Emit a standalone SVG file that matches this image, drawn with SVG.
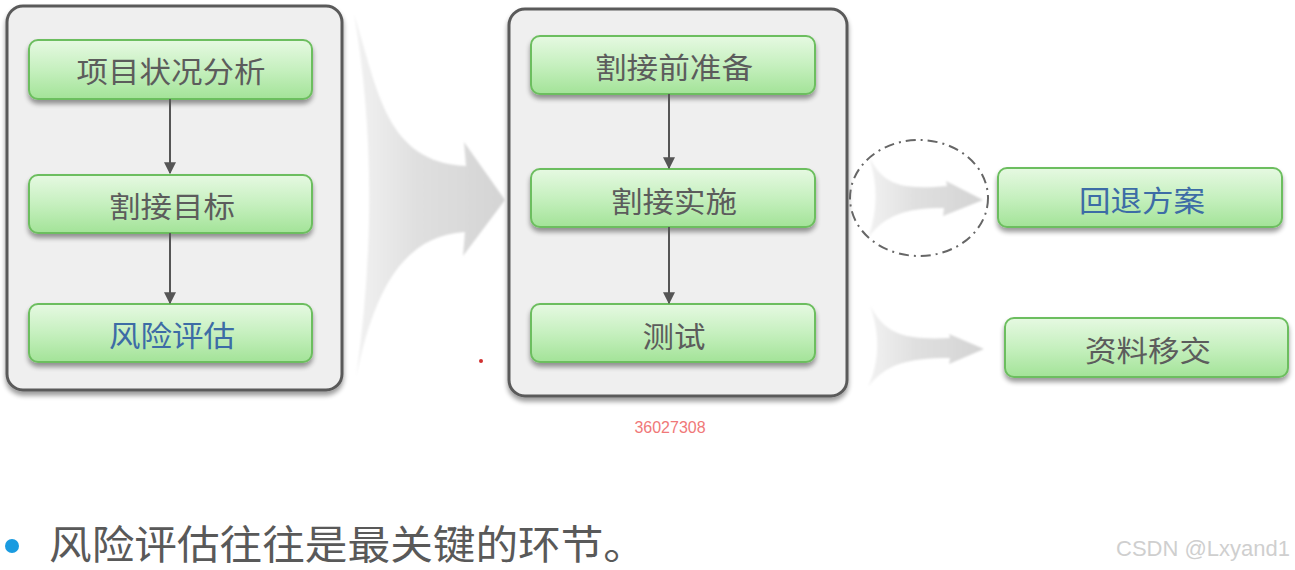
<svg xmlns="http://www.w3.org/2000/svg" width="1295" height="570" viewBox="0 0 1295 570">
<defs>
<linearGradient id="g" x1="0" y1="0" x2="0" y2="1">
<stop offset="0" stop-color="#e6f9e2"/><stop offset="0.5" stop-color="#c6f0bf"/><stop offset="1" stop-color="#a3e398"/>
</linearGradient>
<linearGradient id="ga" x1="0" y1="0" x2="1" y2="0">
<stop offset="0" stop-color="#f2f2f2"/><stop offset="0.4" stop-color="#e0e0e0"/><stop offset="1" stop-color="#d4d4d4"/>
</linearGradient>
<filter id="sh" x="-10%" y="-10%" width="120%" height="130%">
<feGaussianBlur in="SourceAlpha" stdDeviation="2.5"/><feOffset dx="0" dy="4"/>
<feComponentTransfer><feFuncA type="linear" slope="0.4"/></feComponentTransfer>
<feMerge><feMergeNode/><feMergeNode in="SourceGraphic"/></feMerge>
</filter>
<filter id="bl" x="-10%" y="-10%" width="120%" height="120%"><feGaussianBlur stdDeviation="1.2"/></filter>
<marker id="ah" viewBox="0 0 10 10" refX="9" refY="5" markerWidth="6" markerHeight="6" orient="auto" markerUnits="strokeWidth">
<path d="M0,0 L10,5 L0,10 z" fill="#555"/>
</marker>
</defs>
<style>
.cont{fill:#efefef;stroke:#5a5a5a;stroke-width:3}
.box{fill:url(#g);stroke:#6cbe5e;stroke-width:2}
.t{font-family:"Noto Sans CJK SC","Liberation Sans",sans-serif;font-size:29px;fill:#5c5c5c;text-anchor:middle;dominant-baseline:central}
.b{fill:#3d6ca6}
.conn{stroke:#555;stroke-width:2;fill:none;marker-end:url(#ah)}
.big{fill:url(#ga)}
</style>
<rect width="1295" height="570" fill="#fff"/>

<g id="container-left"><rect class="cont" x="7" y="6" width="335" height="384" rx="16" filter="url(#sh)"/></g>
<g id="container-mid"><rect class="cont" x="509" y="9" width="338" height="387" rx="16" filter="url(#sh)"/></g>

<g id="big-arrow"><path class="big" filter="url(#bl)" d="M354 14 C378 90,385 162,466 166 L464 142 L505 200 L463 256 L465 232 C398 236,372 300,356 378 C374 250,374 130,354 14 Z"/></g>

<g id="n1"><rect class="box" x="29" y="40" width="283" height="59" rx="9" filter="url(#sh)"/><text class="t" x="171" y="70" textLength="189" lengthAdjust="spacingAndGlyphs">项目状况分析</text></g>
<g id="n2"><rect class="box" x="29" y="175" width="283" height="58" rx="9" filter="url(#sh)"/><text class="t" x="172" y="205" textLength="126" lengthAdjust="spacingAndGlyphs">割接目标</text></g>
<g id="n3"><rect class="box" x="29" y="304" width="283" height="58" rx="9" filter="url(#sh)"/><text class="t b" x="172" y="334" textLength="126" lengthAdjust="spacingAndGlyphs">风险评估</text></g>

<g id="n4"><rect class="box" x="531" y="36" width="284" height="58" rx="9" filter="url(#sh)"/><text class="t" x="674" y="66" textLength="158" lengthAdjust="spacingAndGlyphs">割接前准备</text></g>
<g id="n5"><rect class="box" x="531" y="169" width="284" height="58" rx="9" filter="url(#sh)"/><text class="t" x="674" y="200" textLength="126" lengthAdjust="spacingAndGlyphs">割接实施</text></g>
<g id="n6"><rect class="box" x="531" y="304" width="284" height="58" rx="9" filter="url(#sh)"/><text class="t" x="674" y="335" textLength="63" lengthAdjust="spacingAndGlyphs">测试</text></g>

<g id="n7"><rect class="box" x="998" y="168" width="284" height="59" rx="9" filter="url(#sh)"/><text class="t b" x="1142" y="199" textLength="126" lengthAdjust="spacingAndGlyphs">回退方案</text></g>
<g id="n8"><rect class="box" x="1005" y="318" width="283" height="59" rx="9" filter="url(#sh)"/><text class="t" x="1148" y="349" textLength="126" lengthAdjust="spacingAndGlyphs">资料移交</text></g>

<g id="connectors">
<line class="conn" x1="170" y1="99" x2="170" y2="173"/>
<line class="conn" x1="170" y1="233" x2="170" y2="303"/>
<line class="conn" x1="669" y1="94" x2="669" y2="168"/>
<line class="conn" x1="669" y1="227" x2="669" y2="303"/>
<path class="big" filter="url(#bl)" d="M869 157 C884 185,900 190,947 186 L946 181 L983 200 L943 216 L944 208 C905 208,885 215,868 238 C878 210,878 185,869 157 Z"/>
<path class="big" filter="url(#bl)" d="M870 305 C885 335,905 340,950 338 L949 334 L984 349 L949 364 L950 358 C905 358,885 365,868 387 C880 360,880 335,870 305 Z"/>
</g>

<g id="highlight"><ellipse cx="919" cy="198" rx="69" ry="58" fill="none" stroke="#666" stroke-width="2" stroke-dasharray="10 5 2 5"/></g>

<circle cx="481" cy="361" r="2" fill="#d03030"/>
<text x="670" y="433" font-family="Liberation Sans, sans-serif" font-size="16" fill="#f07878" text-anchor="middle">36027308</text>

<circle cx="12" cy="546" r="7" fill="#1a9be0"/>
<text x="49" y="559" font-family="Noto Sans CJK SC, Liberation Sans, sans-serif" font-size="40" fill="#595959" textLength="597" lengthAdjust="spacingAndGlyphs">风险评估往往是最关键的环节。</text>
<text x="1290" y="556" font-family="Liberation Sans, sans-serif" font-size="22" fill="#cfcfcf" text-anchor="end">CSDN @Lxyand1</text>
</svg>
